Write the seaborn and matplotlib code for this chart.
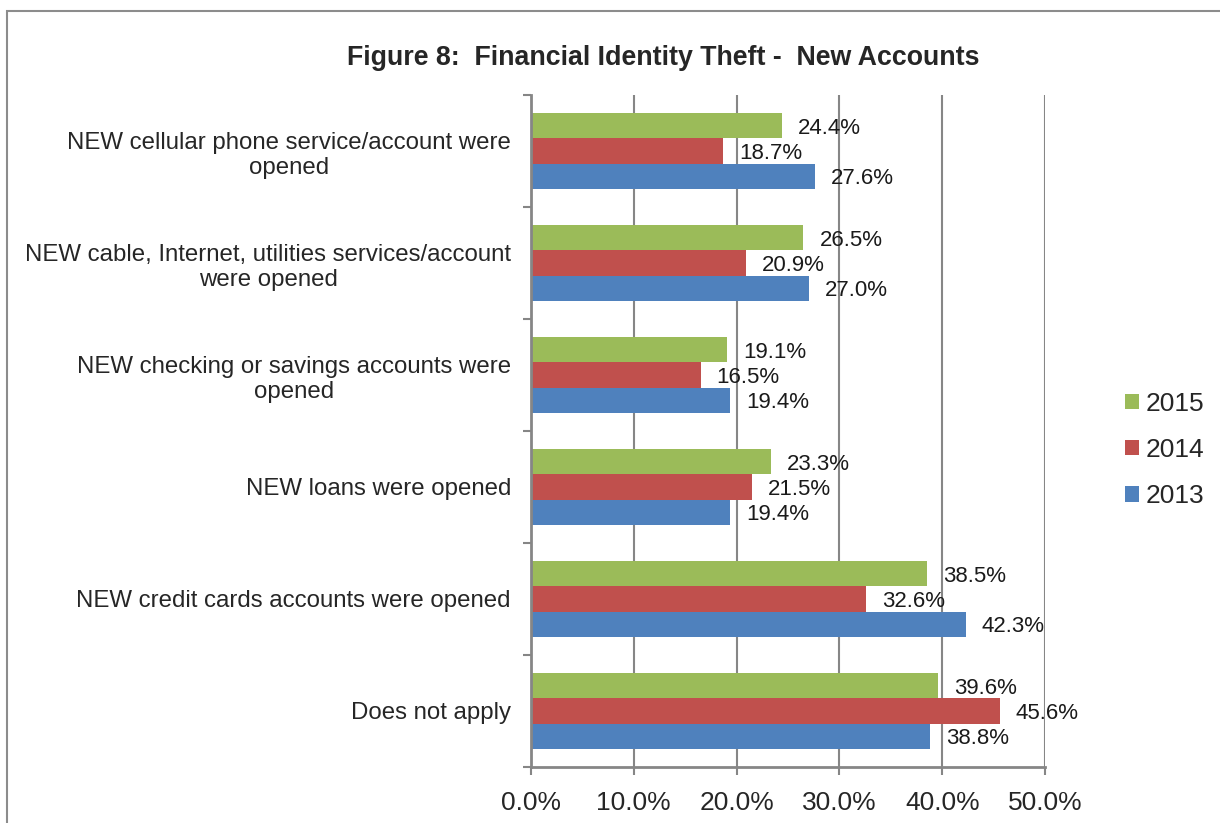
import matplotlib
matplotlib.use("Agg")
import matplotlib.pyplot as plt
from matplotlib.patches import Rectangle, Patch
from matplotlib.ticker import FixedLocator
import numpy as np
import pandas as pd
import seaborn as sns

# Survey categories (top to bottom) and share of respondents per year
categories = [
    "NEW cellular phone service/account were\nopened",
    "NEW cable, Internet, utilities services/account\nwere opened",
    "NEW checking or savings accounts were\nopened",
    "NEW loans were opened",
    "NEW credit cards accounts were opened",
    "Does not apply",
]
years = ["2015", "2014", "2013"]
values_2015 = [24.4, 26.5, 19.1, 23.3, 38.5, 39.6]
values_2014 = [18.7, 20.9, 16.5, 21.5, 32.6, 45.6]
values_2013 = [27.6, 27.0, 19.4, 19.4, 42.3, 38.8]
x_ticks = [0, 10, 20, 30, 40, 50]
title = "Figure 8:  Financial Identity Theft -  New Accounts"

colors = {"2015": "#9BBB59", "2014": "#C0504D", "2013": "#4F81BD"}

df = pd.DataFrame({
    "category": categories * 3,
    "year": ["2015"] * 6 + ["2014"] * 6 + ["2013"] * 6,
    "value": values_2015 + values_2014 + values_2013,
})

sns.set_theme(style="white")
plt.rcParams["font.family"] = ["Liberation Sans", "DejaVu Sans"]

W, H = 1220, 823
fig = plt.figure(figsize=(W / 100, H / 100), dpi=100)
ax = fig.add_axes([531 / W, 1 - 767 / H, (1045 - 531) / W, (767 - 95) / H])

sns.barplot(data=df, y="category", x="value", hue="year", hue_order=years,
            order=categories, palette=colors, orient="h", width=0.67,
            saturation=1, linewidth=0, ax=ax, legend=False)

ax.set_xlim(0, 50)
ax.set_ylim(len(categories) - 0.5, -0.5)
ax.set_xlabel("")
ax.set_ylabel("")

grid_c = "#868686"
ax.set_xticks(x_ticks)
ax.set_xticklabels([f"{t:.1f}%" for t in x_ticks], fontsize=19)
for t in x_ticks[1:]:
    ax.axvline(t, color=grid_c, lw=1.5, zorder=0)

ax.yaxis.set_minor_locator(FixedLocator(np.arange(-0.5, len(categories), 1.0)))
ax.tick_params(axis="y", which="major", length=0, pad=14.4, labelsize=17.3)
ax.tick_params(axis="y", which="minor", length=6, width=1.5, color=grid_c, left=True)
ax.tick_params(axis="x", which="major", length=6, width=1.5, color=grid_c,
               bottom=True, pad=11)
for lbl in ax.get_yticklabels():
    lbl.set_multialignment("center")

for side in ["top", "right"]:
    ax.spines[side].set_visible(False)
for side in ["left", "bottom"]:
    ax.spines[side].set_color(grid_c)
    ax.spines[side].set_linewidth(2)

# value labels at the end of each bar, nudged slightly below the bar centre
for cont in ax.containers:
    texts = ax.bar_label(cont, fmt="%.1f%%", padding=11.5, fontsize=16,
                         color="#1a1a1a")
    for t in texts:
        t.set_y(-1.5)

fig.text(663 / W, 1 - 58 / H, title, ha="center", va="center",
         fontsize=19.3, fontweight="bold")

handles = [Patch(facecolor=colors[y], edgecolor="none") for y in years]
fig.legend(handles, years, loc="center left",
           bbox_to_anchor=(1125 / W, 1 - 450 / H), bbox_transform=fig.transFigure,
           frameon=False, fontsize=19, handlelength=0.53, handleheight=0.53,
           handletextpad=0.25, labelspacing=0.84, borderpad=0, borderaxespad=0)

# outer frame around the chart area
fig.patches.append(Rectangle((7 / W, -0.1), 1.2, 1.1 - 11 / H,
                             transform=fig.transFigure, fill=False,
                             edgecolor="#8c8c8c", lw=1.5))

fig.savefig("out.png", dpi=100)
